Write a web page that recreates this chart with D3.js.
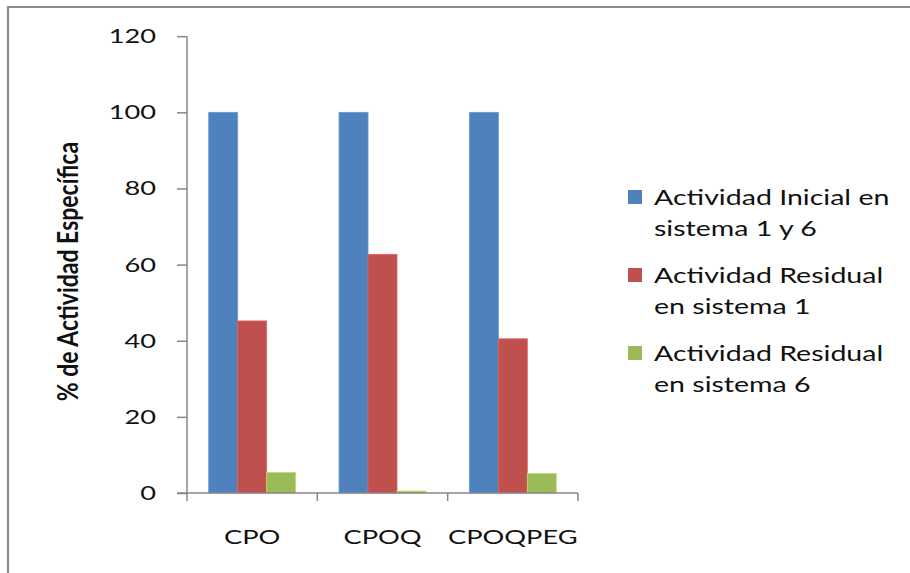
<!DOCTYPE html>
<html>
<head>
<meta charset="utf-8">
<script src="https://cdn.jsdelivr.net/npm/d3@7"></script>
<style>
  html, body { margin: 0; padding: 0; background: #fff; }
  svg { display: block; }
</style>
</head>
<body>
<svg id="chart" width="910" height="573"></svg>
<script>
const categories = ["CPO", "CPOQ", "CPOQPEG"];
const seriesNames = [
  ["Actividad Inicial en", "sistema 1 y 6"],
  ["Actividad Residual", "en sistema 1"],
  ["Actividad Residual", "en sistema 6"]
];
const seriesColors = ["#4F81BD", "#C0504D", "#9BBB59"];
const inicial = [100, 100, 100];
const residual1 = [45.2, 62.7, 40.5];
const residual6 = [5.4, 0.5, 5.1];
const yTicks = [0, 20, 40, 60, 80, 100, 120];
const yTitle = "% de Actividad Específica";

const series = [inicial, residual1, residual6];

const svg = d3.select("#chart");
const font = "Lato, 'Open Sans', sans-serif";
const stretch = 1.36;

// outer border
svg.append("path")
  .attr("d", "M8,573 V7 H910")
  .attr("fill", "none")
  .attr("stroke", "#8c8c8c")
  .attr("stroke-width", 2.2);

const x0 = 187, x1 = 578, yBottom = 493, yTop = 36.2;

const x = d3.scaleBand().domain(categories).range([x0, x1]).paddingInner(0).paddingOuter(0);
const y = d3.scaleLinear().domain([0, 120]).range([yBottom, yTop]);

const inner = d3.scaleBand().domain(d3.range(series.length)).range([0, x.bandwidth()]).paddingInner(0).paddingOuter(0.75);

const g = svg.append("g");
series.forEach((vals, si) => {
  g.selectAll(null).data(categories).enter().append("rect")
    .attr("x", d => x(d) + inner(si))
    .attr("width", inner.bandwidth())
    .attr("y", (d, i) => y(vals[i]))
    .attr("height", (d, i) => y(0) - y(vals[i]))
    .attr("fill", seriesColors[si])
    .attr("stroke", d3.color(seriesColors[si]).brighter(0.5))
    .attr("stroke-width", 0.8);
});

const axisColor = "#878787";

// y axis
const yAxis = svg.append("g")
  .attr("transform", `translate(${x0},0)`)
  .call(d3.axisLeft(y).tickValues(yTicks).tickSize(10).tickPadding(16).tickFormat(d3.format("d")));
yAxis.select(".domain").attr("stroke", axisColor).attr("stroke-width", 1.5).attr("d", `M0,${yTop}V${yBottom + 8}`);
yAxis.selectAll(".tick line").attr("stroke", axisColor).attr("stroke-width", 1.5);
yAxis.selectAll(".tick text")
  .attr("x", 0)
  .attr("transform", `translate(-31,0) scale(${stretch},1)`)
  .attr("font-family", font).attr("font-size", 20).attr("fill", "#111");

// x axis
const xAxis = svg.append("g")
  .attr("transform", `translate(0,${yBottom})`)
  .call(d3.axisBottom(x).tickSize(0).tickPadding(37));
xAxis.select(".domain").attr("stroke", axisColor).attr("stroke-width", 1.5).attr("d", `M${x0 - 10},0H${x1}`);
xAxis.selectAll(".tick text")
  .attr("transform", `scale(${stretch},1)`)
  .attr("font-family", font).attr("font-size", 20).attr("fill", "#111");
const seps = categories.map(c => x(c) + x.bandwidth());
xAxis.selectAll(".sep").data(seps).enter().append("line")
  .attr("x1", d => d).attr("x2", d => d).attr("y1", 0).attr("y2", 8)
  .attr("stroke", axisColor).attr("stroke-width", 1.5);

// y title
svg.append("text")
  .attr("transform", `translate(78,${(yTop + yBottom) / 2 + 7}) scale(1.2,1) rotate(-90)`)
  .attr("text-anchor", "middle")
  .attr("font-family", font)
  .attr("font-weight", "bold")
  .attr("font-size", 23)
  .attr("fill", "#111")
  .text(yTitle);

// legend
const legend = svg.append("g").attr("transform", "translate(628,190)");
seriesNames.forEach((lines, i) => {
  const gy = i * 78;
  legend.append("rect")
    .attr("x", 0).attr("y", gy).attr("width", 14).attr("height", 14)
    .attr("fill", seriesColors[i]);
  lines.forEach((t, j) => {
    legend.append("text")
      .attr("transform", `translate(26,${gy + 15 + j * 31}) scale(${stretch},1)`)
      .attr("font-family", font)
      .attr("font-size", 21)
      .attr("fill", "#111")
      .text(t);
  });
});
</script>
</body>
</html>
